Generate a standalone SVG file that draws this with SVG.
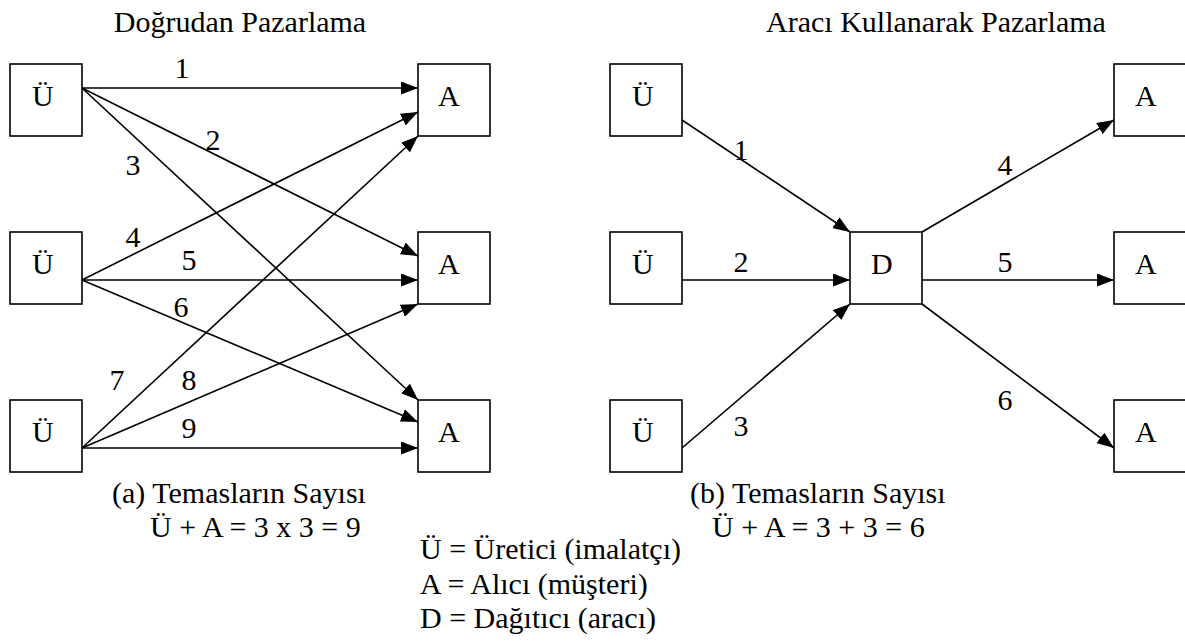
<svg xmlns="http://www.w3.org/2000/svg" width="1185" height="643" viewBox="0 0 1185 643">
  <style>
    text { font-family: "Liberation Serif", "Times New Roman", serif; font-size: 30px; fill: #000; }
    .box { fill: #fff; stroke: #000; stroke-width: 1.6; }
    .edge { fill: none; stroke: #000; stroke-width: 1.6; marker-end: url(#arrow); }
    .mid { text-anchor: middle; }
  </style>
  <defs>
    <marker id="arrow" viewBox="0 0 17 13" markerWidth="17" markerHeight="13" refX="17" refY="6.5" orient="auto" markerUnits="userSpaceOnUse">
      <path d="M0,0 L17,6.5 L0,13 Z" fill="#000"/>
    </marker>
  </defs>
  <rect width="1185" height="643" fill="#fff"/>

  <!-- Titles -->
  <text id="title-direct" class="mid" x="240" y="32">Doğrudan Pazarlama</text>
  <text id="title-indirect" class="mid" x="936" y="32">Aracı Kullanarak Pazarlama</text>

  <!-- Connectors -->
  <g id="connectors">
    <!-- direct marketing: every producer to every buyer -->
    <line class="edge" x1="82" y1="88" x2="418" y2="88"/>
    <line class="edge" x1="82" y1="88" x2="418" y2="256"/>
    <line class="edge" x1="82" y1="88" x2="418" y2="400"/>
    <line class="edge" x1="82" y1="280" x2="418" y2="112"/>
    <line class="edge" x1="82" y1="280" x2="418" y2="280"/>
    <line class="edge" x1="82" y1="280" x2="418" y2="422"/>
    <line class="edge" x1="82" y1="448" x2="418" y2="136"/>
    <line class="edge" x1="82" y1="448" x2="418" y2="304"/>
    <line class="edge" x1="82" y1="448" x2="418" y2="448"/>
    <!-- marketing through a distributor -->
    <line class="edge" x1="682" y1="120" x2="850" y2="232"/>
    <line class="edge" x1="682" y1="280" x2="850" y2="280"/>
    <line class="edge" x1="682" y1="448" x2="850" y2="304"/>
    <line class="edge" x1="922" y1="232" x2="1114" y2="120"/>
    <line class="edge" x1="922" y1="280" x2="1114" y2="280"/>
    <line class="edge" x1="922" y1="304" x2="1114" y2="448"/>
  </g>

  <!-- Connector labels -->
  <g id="edge-labels" class="mid">
    <text x="182" y="78">1</text>
    <text x="213" y="150">2</text>
    <text x="133" y="175">3</text>
    <text x="133" y="247">4</text>
    <text x="189" y="270">5</text>
    <text x="181" y="317">6</text>
    <text x="117" y="390">7</text>
    <text x="189" y="390">8</text>
    <text x="189" y="438">9</text>
    <text x="741" y="160">1</text>
    <text x="741" y="272">2</text>
    <text x="741" y="436">3</text>
    <text x="1005" y="175">4</text>
    <text x="1005" y="272">5</text>
    <text x="1005" y="410">6</text>
  </g>

  <!-- Nodes: direct marketing -->
  <g id="p1"><rect class="box" x="10" y="64" width="72" height="72"/><text x="32" y="106">Ü</text></g>
  <g id="p2"><rect class="box" x="10" y="232" width="72" height="72"/><text x="32" y="274">Ü</text></g>
  <g id="p3"><rect class="box" x="10" y="400" width="72" height="72"/><text x="32" y="442">Ü</text></g>
  <g id="b1"><rect class="box" x="418" y="64" width="72" height="72"/><text x="438" y="106">A</text></g>
  <g id="b2"><rect class="box" x="418" y="232" width="72" height="72"/><text x="438" y="274">A</text></g>
  <g id="b3"><rect class="box" x="418" y="400" width="72" height="72"/><text x="438" y="442">A</text></g>

  <!-- Nodes: marketing through a distributor -->
  <g id="p4"><rect class="box" x="610" y="64" width="72" height="72"/><text x="632" y="106">Ü</text></g>
  <g id="p5"><rect class="box" x="610" y="232" width="72" height="72"/><text x="632" y="274">Ü</text></g>
  <g id="p6"><rect class="box" x="610" y="400" width="72" height="72"/><text x="632" y="442">Ü</text></g>
  <g id="dist"><rect class="box" x="850" y="232" width="72" height="72"/><text x="871" y="274">D</text></g>
  <g id="b4"><rect class="box" x="1114" y="64" width="72" height="72"/><text x="1135" y="106">A</text></g>
  <g id="b5"><rect class="box" x="1114" y="232" width="72" height="72"/><text x="1135" y="274">A</text></g>
  <g id="b6"><rect class="box" x="1114" y="400" width="72" height="72"/><text x="1135" y="442">A</text></g>

  <!-- Captions and legend -->
  <g id="caption-a">
    <text x="112" y="503">(a) Temasların Sayısı</text>
    <text x="150" y="537">Ü + A = 3 x 3 = 9</text>
  </g>
  <g id="caption-b">
    <text x="690" y="503">(b) Temasların Sayısı</text>
    <text x="712" y="537">Ü + A = 3 + 3 = 6</text>
  </g>
  <g id="legend">
    <text x="420" y="559">Ü = Üretici (imalatçı)</text>
    <text x="420" y="594">A = Alıcı (müşteri)</text>
    <text x="420" y="628">D = Dağıtıcı (aracı)</text>
  </g>
</svg>
